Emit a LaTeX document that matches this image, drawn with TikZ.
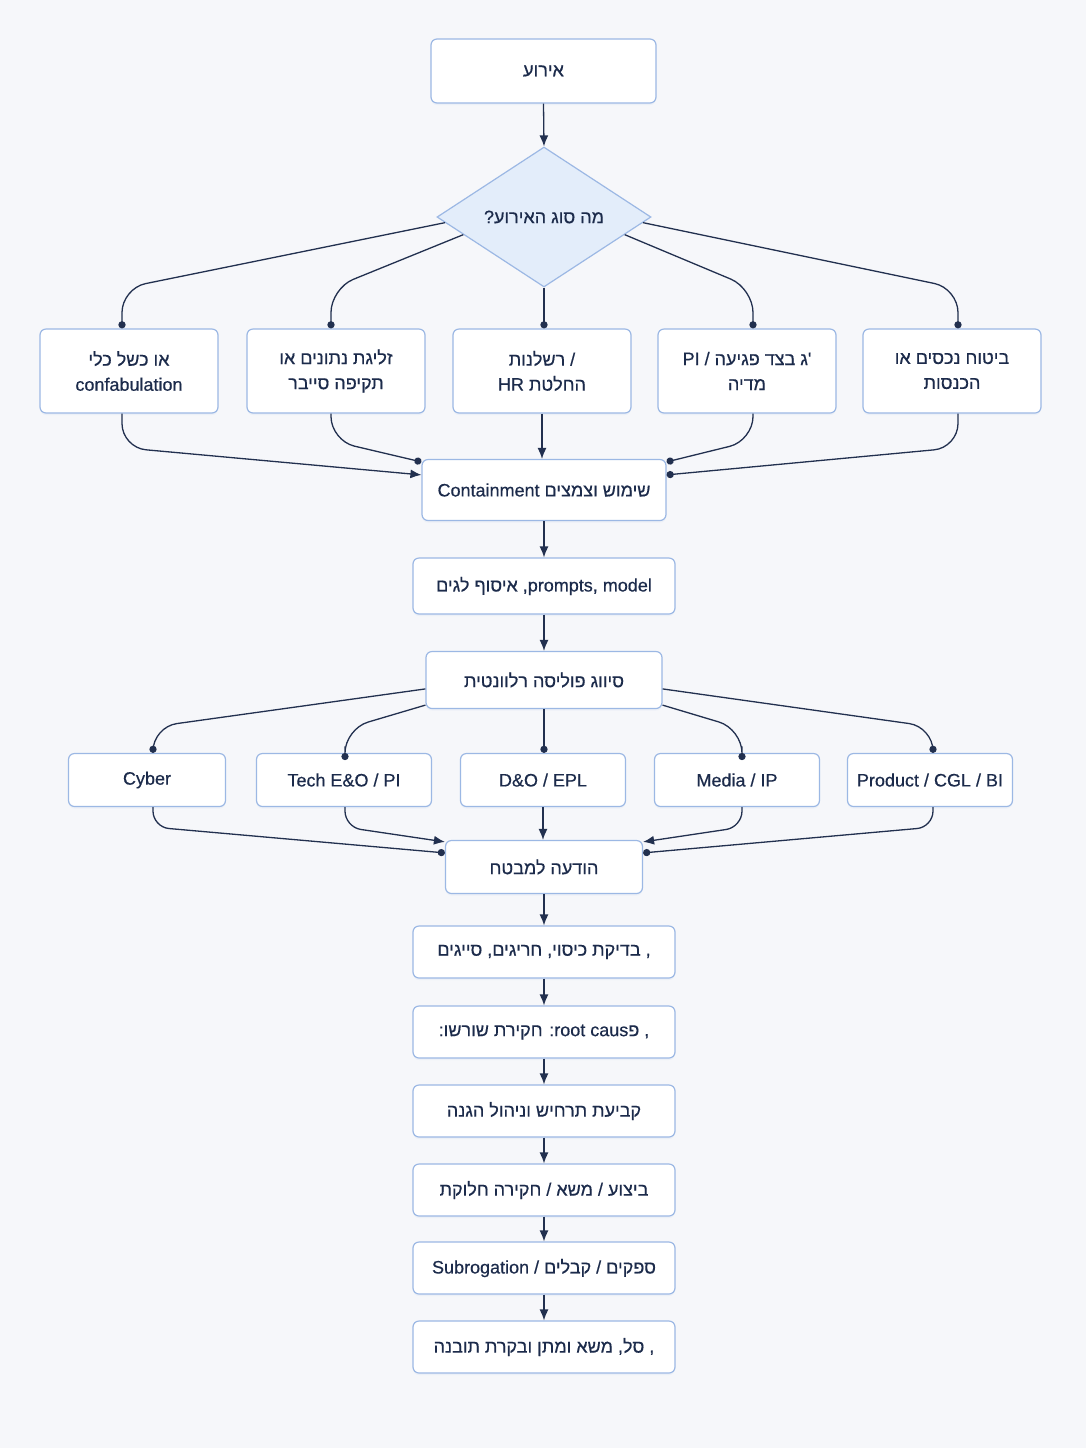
\documentclass[tikz,border=0pt]{standalone}
\usepackage{fontspec}
\setmainfont{Liberation Sans}[FakeBold=0.5]
\newfontfamily\hebfont[Script=Hebrew,FakeBold=0.5]{Liberation Sans}
\TeXXeTstate=1
\usetikzlibrary{arrows.meta,positioning,calc,shapes.geometric,shadows}
\definecolor{ink}{HTML}{1C2B4B}
\definecolor{canvas}{HTML}{F6F7FA}
\definecolor{edgeblue}{HTML}{9CB8E4}
\definecolor{diafill}{HTML}{E3EDFA}
\definecolor{wirecol}{HTML}{22304F}
\newcommand{\heb}[1]{{\hebfont\beginR #1\endR}}

\begin{document}
\begin{tikzpicture}[
  x=0.5pt,y=-0.5pt,
  font=\fontsize{9}{12.5}\selectfont,
  box/.style={draw=edgeblue,fill=white,rounded corners=3pt,line width=.6pt,
    align=center,text=ink,inner sep=0pt,
    drop shadow={shadow xshift=0pt,shadow yshift=-1pt,opacity=.10,fill=edgeblue}},
  case/.style={box,minimum width=89pt,minimum height=42pt},
  line/.style={box,minimum height=26.5pt},
  stage/.style={box,minimum width=131pt,minimum height=26pt},
  decision/.style={diamond,draw=edgeblue,fill=diafill,line width=.6pt,text=ink,
    inner sep=0pt,minimum width=107pt,minimum height=70pt,aspect=1.5},
  wire/.style={draw=wirecol,line width=.65pt,rounded corners=12pt},
  arrow/.style={-{Latex[length=5.5pt,width=4.5pt]}},
  dot/.style={-{Circle[length=3.6pt]}}
]
\fill[canvas] (0,0) rectangle (1086,1448);

% top of the flow
\node[box,minimum width=112.5pt,minimum height=32pt] (event) at (543.5,71) {\heb{אירוע}};
\node[decision] (kind) at (544,217) {\heb{מה סוג האירוע?}};

% event types
\node[case] (tool) at (129,371) {\heb{או כשל כלי}\\confabulation};
\node[case] (data) at (336,371) {\heb{זליגת נתונים או}\\\heb{תקיפה סייבר}};
\node[case] (hr) at (542,371) {\heb{רשלנות} /\\\heb{החלטת \beginL HR\endL}};
\node[case] (media) at (747,371) {PI / \heb{'ג בצד פגיעה}\\\heb{מדיה}};
\node[case] (assets) at (952,371) {\heb{ביטוח נכסים או}\\\heb{הכנסות}};

\node[box,minimum width=122pt,minimum height=30.5pt] (contain) at (544,490) {Containment \heb{שימוש וצמצים}};
\node[stage,minimum height=28pt] (collect) at (544,586) {\heb{איסוף לגים} ,prompts, model};
\node[box,minimum width=118pt,minimum height=28.5pt] (policy) at (544,680) {\heb{סיווג פוליסה רלוונטית}};

% policy lines
\node[line,minimum width=78.5pt] (cyber) at (147,780) {Cyber};
\node[line,minimum width=87.5pt] (techeo) at (344,780) {Tech E\&O / PI};
\node[line,minimum width=82.5pt] (dno) at (543,780) {D\&O / EPL};
\node[line,minimum width=82.5pt] (mediaip) at (737,780) {Media / IP};
\node[line,minimum width=82.5pt] (product) at (930,780) {Product / CGL / BI};

\node[line,minimum width=98.5pt] (notify) at (544,867) {\heb{הודעה למבטח}};

% claim handling
\node[stage] (cover) at (544,952) {\heb{, בדיקת כיסוי, חריגים, סייגים}};
\node[stage] (cause) at (544,1032) {\heb{חקירת שורשו:} :root caus\heb{פ} ,};
\node[stage] (defense) at (544,1111) {\heb{קביעת תרחיש וניהול הגנה}};
\node[stage] (settle) at (544,1190) {\heb{ביצוע / משא / חקירה חלוקת}};
\node[stage] (subro) at (544,1268) {\heb{ספקים / קבלים / \beginL Subrogation\endL}};
\node[stage] (close) at (544,1347) {\heb{, סל, משא ומתן ובקרת תובנה}};

% straight arrows
\draw[wire,arrow] (event.south) -- (kind.north);
\draw[wire,dot] (kind.south) -- (kind.south |- hr.north);
\draw[wire,arrow] (hr.south) -- (hr.south |- contain.north);
\draw[wire,dot] (policy.south) -- (policy.south |- dno.north);
\draw[wire,arrow] (dno.south) -- (dno.south |- notify.north);
\foreach \a/\b in {contain/collect,collect/policy,notify/cover,cover/cause,cause/defense,defense/settle,settle/subro,subro/close}
  \draw[wire,arrow] (\a.south) -- (\b.north);

% diamond to types
\draw[wire,dot] ($(kind.west)!.08!(kind.south)$) -- ($(tool.north)+(-7,-40)$) -- ($(tool.north)+(-7,0)$);
\draw[wire,dot] ($(kind.west)!.25!(kind.south)$) -- ($(data.north)+(-5,-40)$) -- ($(data.north)+(-5,0)$);
\draw[wire,dot] ($(kind.east)!.25!(kind.south)$) -- ($(media.north)+(6,-40)$) -- ($(media.north)+(6,0)$);
\draw[wire,dot] ($(kind.east)!.08!(kind.south)$) -- ($(assets.north)+(6,-40)$) -- ($(assets.north)+(6,0)$);

% types into containment
\draw[wire,arrow] ($(tool.south)+(-7,0)$) -- ($(tool.south)+(-7,34)$) -- ($(contain.north west)+(0,16)$);
\draw[wire,dot] ($(data.south)+(-5,0)$) -- ($(data.south)+(-5,27)$) -- ($(contain.north west)+(0,3)$);
\draw[wire,dot] ($(media.south)+(6,0)$) -- ($(media.south)+(6,27)$) -- ($(contain.north east)+(0,3)$);
\draw[wire,dot] ($(assets.south)+(6,0)$) -- ($(assets.south)+(6,34)$) -- ($(contain.north east)+(0,16)$);

% policy to lines
\draw[wire,dot] ($(policy.north west)+(0,38)$) -- ($(cyber.north)+(6,-26)$) -- ($(cyber.north)+(6,0)$);
\draw[wire,dot] ($(policy.south west)+(0,-4)$) -- ($(techeo.north)+(1,-24)$) -- ($(techeo.north)+(1,0)$);
\draw[wire,dot] ($(policy.south east)+(0,-4)$) -- ($(mediaip.north)+(5,-24)$) -- ($(mediaip.north)+(5,0)$);
\draw[wire,dot] ($(policy.north east)+(0,38)$) -- ($(product.north)+(3,-26)$) -- ($(product.north)+(3,0)$);

% lines into notification
\draw[wire,dot,rounded corners=8pt] ($(cyber.south)+(6,0)$) -- ($(cyber.south)+(6,20)$) -- ($(notify.north west)+(0,13)$);
\draw[wire,arrow,rounded corners=8pt] ($(techeo.south)+(1,0)$) -- ($(techeo.south)+(1,20)$) -- ($(notify.north west)+(0,2)$);
\draw[wire,arrow,rounded corners=8pt] ($(mediaip.south)+(5,0)$) -- ($(mediaip.south)+(5,20)$) -- ($(notify.north east)+(0,2)$);
\draw[wire,dot,rounded corners=8pt] ($(product.south)+(3,0)$) -- ($(product.south)+(3,20)$) -- ($(notify.north east)+(0,13)$);
\end{tikzpicture}
\end{document}
